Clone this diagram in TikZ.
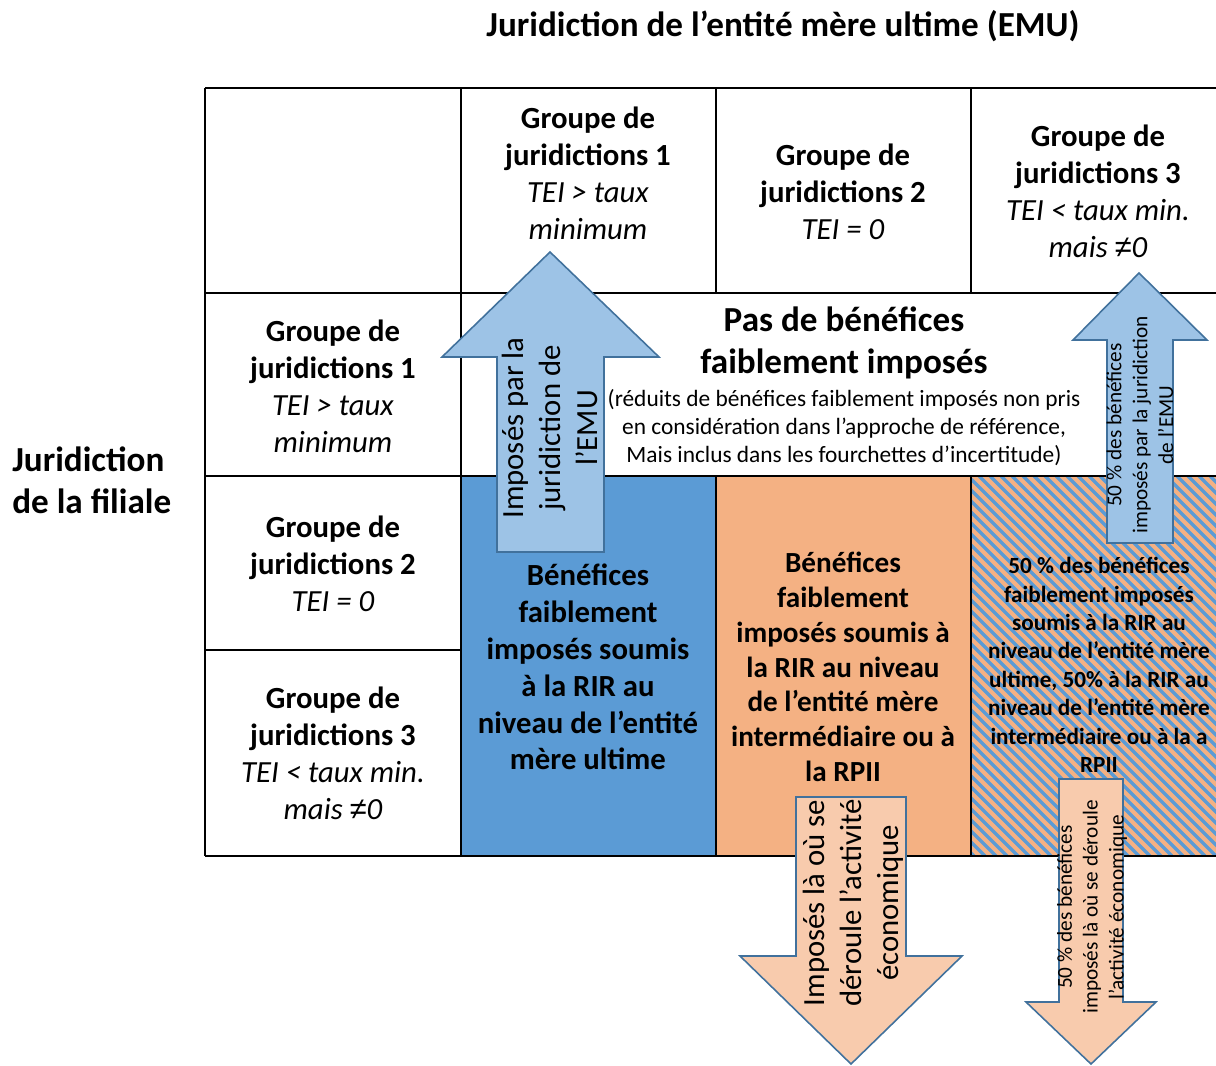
\documentclass[tikz,border=0pt]{standalone}
\usepackage{fontspec}
\setmainfont{Carlito}
\newfontfamily\neqfont{Liberation Sans}
\definecolor{cellblue}{HTML}{5B9BD5}
\definecolor{cellorange}{HTML}{F4B183}
\definecolor{arrowblue}{HTML}{9DC3E6}
\definecolor{arrowedge}{HTML}{41719C}
\definecolor{arroworange}{HTML}{F8CBAD}
\newcommand{\titletxt}{\fontsize{20}{24}\selectfont}
\newcommand{\celltxt}{\fontsize{17.5}{21}\selectfont}
\newcommand{\midtxt}{\fontsize{16.6}{19.8}\selectfont}
\newcommand{\bigtxt}{\fontsize{20}{23.8}\selectfont}
\newcommand{\smalltxt}{\fontsize{13.3}{15.9}\selectfont}
\newcommand{\hatchtxt}{\fontsize{13.2}{16.2}\selectfont}
\newcommand{\tinytxt}{\fontsize{12.1}{14.7}\selectfont}
\newcommand{\noteq}{{\neqfont\itshape ≠}}
\tikzset{
  gridline/.style={line width=1.1pt, black},
  bigarrow/.style={draw=arrowedge, line width=0.9pt, line join=miter},
  stripe/.style={cellblue, line width=1.9pt},
  label/.style={align=center, inner sep=0pt},
}
\begin{document}
\begin{tikzpicture}[x=0.02cm, y=-0.02cm]
\useasboundingbox (0,0) rectangle (1216,1065);
% cell fills
\fill[cellblue] (461,476) rectangle (716,856);
\fill[cellorange] (716,476) rectangle (1218,856);
\begin{scope}
\clip (971,476) rectangle (1218,856);
\foreach \s in {583,594,...,1230}
  \draw[stripe] (\s,476) -- (\s+380,856);
\end{scope}
% grid
\draw[gridline] (205,88) -- (1218,88);
\draw[gridline] (205,293) -- (1218,293);
\draw[gridline] (205,476) -- (1218,476);
\draw[gridline] (205,650) -- (461,650);
\draw[gridline] (205,856) -- (1218,856);
\draw[gridline] (205,88) -- (205,856);
\draw[gridline] (461,88) -- (461,856);
\draw[gridline] (716,88) -- (716,293) (716,476) -- (716,856);
\draw[gridline] (971,88) -- (971,293) (971,476) -- (971,856);
% headers
\node (title)[label, font=\titletxt\bfseries] at (783,26) {Juridiction de l’entité mère ultime (EMU)};
\node (side)[label, align=left, font=\titletxt\bfseries, anchor=west] at (12,480) {Juridiction\\de la filiale};
\node (colA)[label, font=\celltxt] at (588,173) {\textbf{Groupe de}\\\textbf{juridictions 1}\\\textit{TEI > taux}\\\textit{minimum}};
\node (colB)[label, font=\celltxt] at (843,192) {\textbf{Groupe de}\\\textbf{juridictions 2}\\\textit{TEI = 0}};
\node (colC)[label, font=\celltxt] at (1098,191) {\textbf{Groupe de}\\\textbf{juridictions 3}\\\textit{TEI < taux min.}\\\textit{mais \noteq0}};
\node (rowA)[label, font=\celltxt] at (333,386) {\textbf{Groupe de}\\\textbf{juridictions 1}\\\textit{TEI > taux}\\\textit{minimum}};
\node (rowB)[label, font=\celltxt] at (333,564) {\textbf{Groupe de}\\\textbf{juridictions 2}\\\textit{TEI = 0}};
\node (rowC)[label, font=\celltxt] at (333,753) {\textbf{Groupe de}\\\textbf{juridictions 3}\\\textit{TEI < taux min.}\\\textit{mais \noteq0}};
% merged white cell
\node (nolow)[label, font=\bigtxt\bfseries] at (844,343) {Pas de bénéfices\\faiblement imposés};
\node (nolowsub)[label, font=\smalltxt] at (844,428) {(réduits de bénéfices faiblement imposés non pris\\en considération dans l’approche de référence,\\Mais inclus dans les fourchettes d’incertitude)};
% coloured cells
\node (blue)[label, font=\celltxt\bfseries] at (588,667) {Bénéfices\\faiblement\\imposés soumis\\à la RIR au\\niveau de l’entité\\mère ultime};
\node (orange)[label, font=\midtxt\bfseries] at (843,667) {Bénéfices\\faiblement\\imposés soumis à\\la RIR au niveau\\de l’entité mère\\intermédiaire ou à\\la RPII};
\node (hatch)[label, font=\hatchtxt\bfseries] at (1099,665) {50 \% des bénéfices\\faiblement imposés\\soumis à la RIR au\\niveau de l’entité mère\\ultime, 50\% à la RIR au\\niveau de l’entité mère\\intermédiaire ou à la a\\RPII};
% arrows
\draw[bigarrow, fill=arrowblue] (497,552) -- (497,357) -- (442,357) -- (550,252) -- (659,357) -- (604,357) -- (604,552) -- cycle;
\node (upEMU)[label, rotate=90, font=\celltxt] at (550,428) {Imposés par la\\juridiction de\\l’EMU};
\draw[bigarrow, fill=arrowblue] (1107,543) -- (1107,340) -- (1073,340) -- (1139,273) -- (1207,340) -- (1173,340) -- (1173,543) -- cycle;
\node (upHalf)[label, rotate=90, font=\tinytxt] at (1140,425) {50 \% des bénéfices\\imposés par la juridiction\\de l’EMU};
\draw[bigarrow, fill=arroworange] (796,797) -- (906,797) -- (906,956) -- (962,956) -- (851,1064) -- (740,956) -- (796,956) -- cycle;
\node (downEco)[label, rotate=90, font=\celltxt] at (853,903) {Imposés là où se\\déroule l’activité\\économique};
\draw[bigarrow, fill=arroworange] (1059,779) -- (1123,779) -- (1123,1002) -- (1156,1002) -- (1091,1064) -- (1026,1002) -- (1059,1002) -- cycle;
\node (downHalf)[label, rotate=90, font=\tinytxt] at (1092,907) {50 \% des bénéfices\\imposés là où se déroule\\l’activité économique};
\end{tikzpicture}
\end{document}
